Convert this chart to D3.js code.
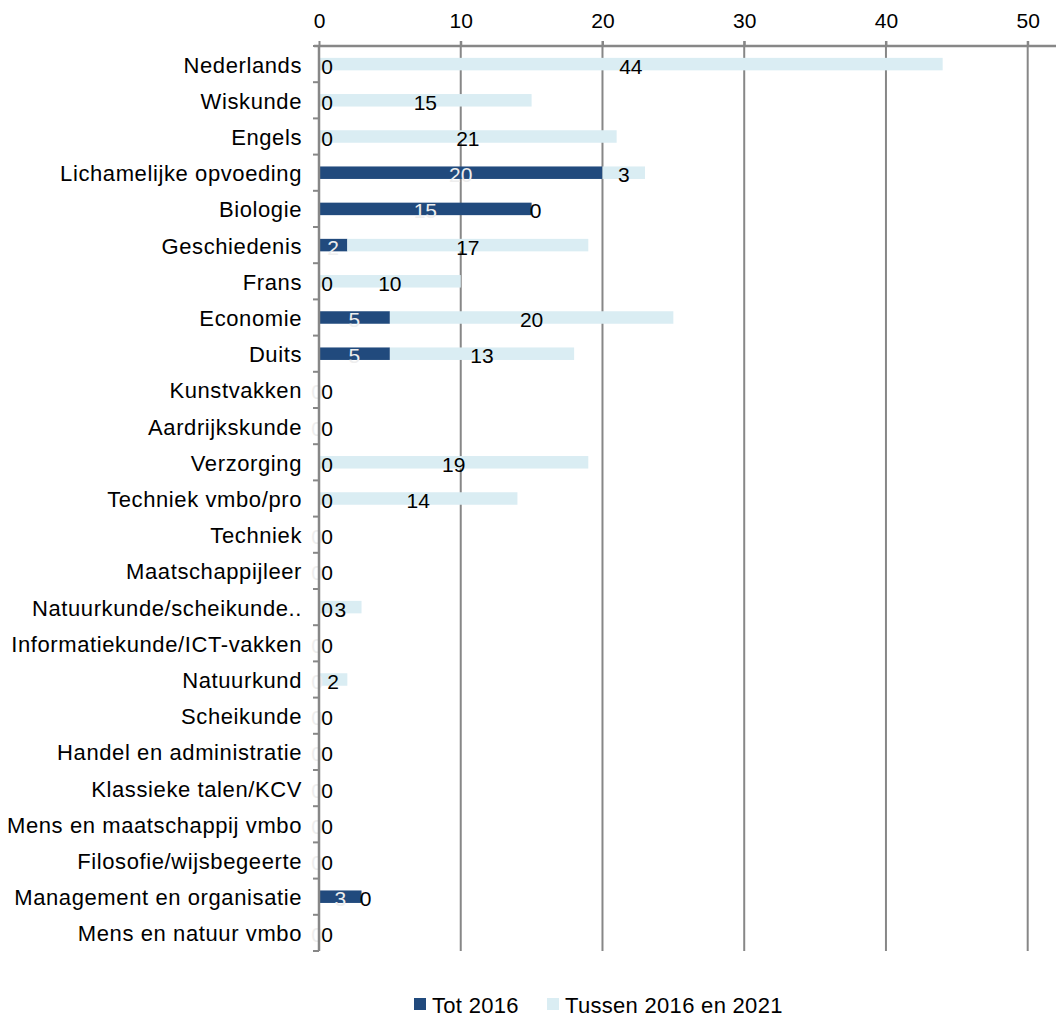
<!DOCTYPE html>
<html>
<head>
<meta charset="utf-8">
<script src="https://cdn.jsdelivr.net/npm/d3@7"></script>
<style>
  body { margin: 0; background: #fff; }
  text { font-family: "Liberation Sans", Arial, sans-serif; }
</style>
</head>
<body>
<div id="chart"></div>
<script>
var categories = [
  "Nederlands", "Wiskunde", "Engels", "Lichamelijke opvoeding", "Biologie",
  "Geschiedenis", "Frans", "Economie", "Duits", "Kunstvakken",
  "Aardrijkskunde", "Verzorging", "Techniek vmbo/pro", "Techniek", "Maatschappijleer",
  "Natuurkunde/scheikunde..", "Informatiekunde/ICT-vakken", "Natuurkund", "Scheikunde", "Handel en administratie",
  "Klassieke talen/KCV", "Mens en maatschappij vmbo", "Filosofie/wijsbegeerte", "Management en organisatie", "Mens en natuur vmbo"
];
var tot2016 = [0, 0, 0, 20, 15, 2, 0, 5, 5, 0, 0, 0, 0, 0, 0, 0, 0, 0, 0, 0, 0, 0, 0, 3, 0];
var tussen2016en2021 = [44, 15, 21, 3, 0, 17, 10, 20, 13, 0, 0, 19, 14, 0, 0, 3, 0, 2, 0, 0, 0, 0, 0, 0, 0];
var xTicks = [0, 10, 20, 30, 40, 50];
var seriesNames = ["Tot 2016", "Tussen 2016 en 2021"];

var width = 1056, height = 1017;
var darkColor = "#214a7d", lightColor = "#daedf3", gridColor = "#878787";
var numberSize = "21px", labelSize = "22px";

var svg = d3.select("#chart").append("svg")
  .attr("width", width)
  .attr("height", height);

var x = d3.scaleLinear().domain([0, 50]).range([319, 1027.7]);
var y = d3.scaleBand().domain(categories).range([46, 951])
  .paddingInner(0.655).paddingOuter(0.3275);

// gridlines (also act as the top ticks)
svg.append("g").selectAll("line")
  .data(xTicks.slice(1))
  .enter().append("line")
  .attr("x1", function(d) { return x(d); })
  .attr("x2", function(d) { return x(d); })
  .attr("y1", 41)
  .attr("y2", 951)
  .style("stroke", gridColor)
  .style("stroke-width", 2);

// top axis
var xAxis = d3.axisTop(x).tickValues(xTicks).tickSize(5).tickPadding(13);
var gx = svg.append("g")
  .attr("transform", "translate(0,46)")
  .call(xAxis);
gx.select(".domain").remove();
gx.selectAll(".tick line").style("stroke", gridColor).style("stroke-width", 2);
gx.selectAll(".tick text").style("font-size", numberSize).style("fill", "#000");
svg.append("line")
  .attr("x1", 314).attr("x2", width)
  .attr("y1", 46).attr("y2", 46)
  .style("stroke", gridColor).style("stroke-width", 2.5);

// bars
var rows = categories.map(function(c, i) {
  return { cat: c, a: tot2016[i], b: tussen2016en2021[i] };
});

var bar = svg.append("g").selectAll("g")
  .data(rows)
  .enter().append("g");

bar.append("rect")
  .attr("x", function(d) { return x(0); })
  .attr("y", function(d) { return y(d.cat); })
  .attr("width", function(d) { return x(d.a) - x(0); })
  .attr("height", y.bandwidth())
  .style("fill", darkColor);

bar.append("rect")
  .attr("x", function(d) { return x(d.a); })
  .attr("y", function(d) { return y(d.cat); })
  .attr("width", function(d) { return x(d.a + d.b) - x(d.a); })
  .attr("height", y.bandwidth())
  .style("fill", lightColor);

// left axis
svg.append("line")
  .attr("x1", 319).attr("x2", 319)
  .attr("y1", 46).attr("y2", 951)
  .style("stroke", gridColor).style("stroke-width", 2.5);

var bounds = d3.range(categories.length + 1).map(function(i) { return 46 + i * y.step(); });
svg.append("g").selectAll("line")
  .data(bounds)
  .enter().append("line")
  .attr("x1", 313).attr("x2", 319)
  .attr("y1", function(d) { return d; })
  .attr("y2", function(d) { return d; })
  .style("stroke", gridColor).style("stroke-width", 2);

svg.append("g").selectAll("text")
  .data(categories)
  .enter().append("text")
  .attr("x", 302)
  .attr("y", function(d) { return y(d) + y.bandwidth() / 2 + 8.5; })
  .attr("text-anchor", "end")
  .style("font-size", labelSize)
  .style("letter-spacing", "0.6px")
  .style("fill", "#000")
  .text(function(d) { return d; });

// data labels
var mid = function(d) { return y(d.cat) + y.bandwidth() / 2 + 9.5; };

bar.append("text")
  .attr("x", function(d) {
    if (d.a > 0) return (x(0) + x(d.a)) / 2;
    return d.b > 2 ? x(0) + 8 : x(0) - 2;
  })
  .attr("y", mid)
  .attr("text-anchor", "middle")
  .style("font-size", numberSize)
  .style("fill", function(d) { return (d.a === 0 && d.b > 2) ? "#000" : "#eeeeee"; })
  .text(function(d) { return d.a; });

bar.append("text")
  .attr("x", function(d) {
    if (d.b > 0) return (x(d.a) + x(d.a + d.b)) / 2;
    return x(d.a) + (d.a > 0 ? 4 : 8);
  })
  .attr("y", mid)
  .attr("text-anchor", "middle")
  .style("font-size", numberSize)
  .style("fill", "#000")
  .text(function(d) { return d.b; });

// legend
var legend = svg.append("g");
var legendX = [414, 547];
var legendColors = [darkColor, lightColor];
seriesNames.forEach(function(name, i) {
  legend.append("rect")
    .attr("x", legendX[i]).attr("y", 998)
    .attr("width", 12).attr("height", 12)
    .style("fill", legendColors[i]);
  legend.append("text")
    .attr("x", legendX[i] + 18).attr("y", 1013)
    .style("font-size", labelSize)
    .style("letter-spacing", "0.3px")
    .style("fill", "#000")
    .text(name);
});
</script>
</body>
</html>
